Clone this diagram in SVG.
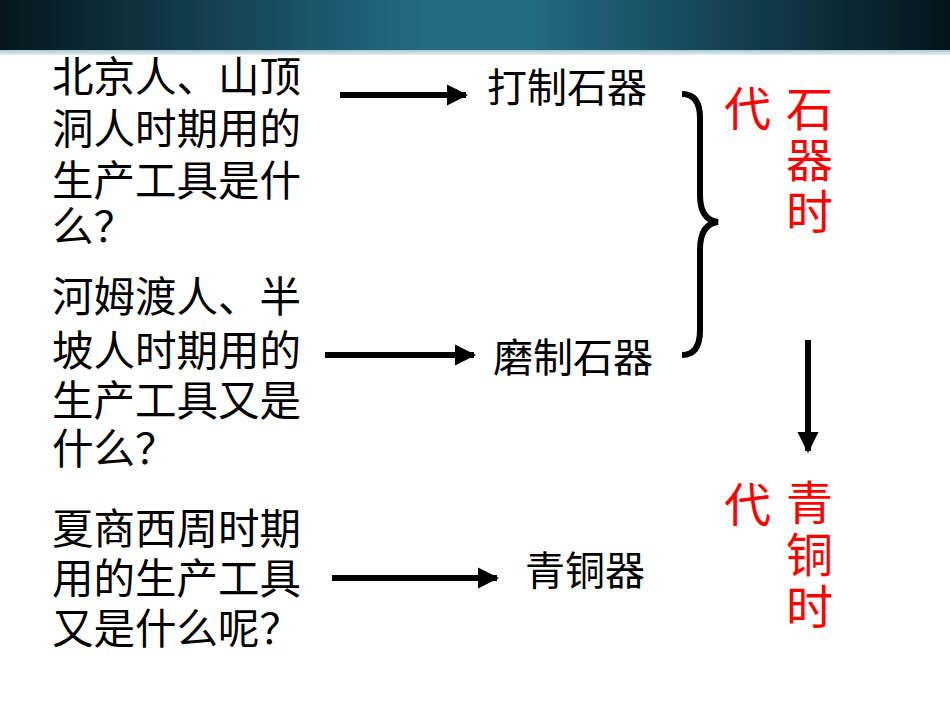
<svg xmlns="http://www.w3.org/2000/svg" width="950" height="713" viewBox="0 0 950 713">
<defs>
<linearGradient id="bg" x1="0" x2="1" y1="0" y2="0">
<stop offset="0" stop-color="#06161c"/><stop offset="0.45" stop-color="#226c86"/><stop offset="0.55" stop-color="#226c86"/><stop offset="1" stop-color="#04141a"/>
</linearGradient>
<linearGradient id="st" x1="0" x2="0" y1="0" y2="1"><stop offset="0" stop-color="#a8c8d4"/><stop offset="1" stop-color="#e6eef0"/></linearGradient>
<marker id="ah" viewBox="0 0 10 10" refX="9" refY="5" markerWidth="3.6" markerHeight="3.6" orient="auto" markerUnits="strokeWidth"><path d="M0,0L10,5L0,10z" fill="#000"/></marker>
<style>
.q{font-family:"Liberation Sans","Noto Sans CJK SC",sans-serif;font-size:41.5px;fill:#000}
.a{font-family:"Liberation Sans","Noto Sans CJK SC",sans-serif;font-size:40px;fill:#000}
.r{font-family:"Liberation Sans","Noto Sans CJK SC",sans-serif;font-size:47px;fill:#ff0000}
.c{stroke:#000;stroke-width:6;fill:none}
</style>
</defs>
<rect width="950" height="713" fill="#fff"/>
<rect width="950" height="50" fill="url(#bg)"/>
<rect y="50" width="950" height="5" fill="url(#st)"/>
<g id="q1"><text class="q" x="52" y="92">北京人、山顶</text><text class="q" x="52" y="144">洞人时期用的</text><text class="q" x="52" y="196">生产工具是什</text><text class="q" x="52" y="242">么？</text></g>
<g id="q2"><text class="q" x="52" y="312">河姆渡人、半</text><text class="q" x="52" y="366">坡人时期用的</text><text class="q" x="52" y="416">生产工具又是</text><text class="q" x="52" y="464">什么？</text></g>
<g id="q3"><text class="q" x="52" y="544">夏商西周时期</text><text class="q" x="52" y="594">用的生产工具</text><text class="q" x="52" y="644">又是什么呢？</text></g>
<g id="a1"><text class="a" x="487" y="102">打制石器</text></g>
<g id="a2"><text class="a" x="493" y="372">磨制石器</text></g>
<g id="a3"><text class="a" x="525" y="585">青铜器</text></g>
<g id="era1"><text class="r" x="724" y="126">代</text><text class="r" x="786" y="126">石</text><text class="r" x="786" y="177">器</text><text class="r" x="786" y="229">时</text></g>
<g id="era2"><text class="r" x="724" y="522">代</text><text class="r" x="786" y="520">青</text><text class="r" x="786" y="572">铜</text><text class="r" x="786" y="624">时</text></g>
<g id="connectors">
<line class="c" x1="340" y1="95" x2="466" y2="95" marker-end="url(#ah)"/>
<line class="c" x1="325" y1="355" x2="474" y2="355" marker-end="url(#ah)"/>
<line class="c" x1="332" y1="578" x2="497" y2="578" marker-end="url(#ah)"/>
<line class="c" x1="808" y1="340" x2="808" y2="451" marker-end="url(#ah)"/>
<path class="c" d="M682,94 Q700,94 700,118 L700,195 Q700,220 718,222 Q700,224 700,250 L700,330 Q700,355 682,355"/>
</g>
</svg>
